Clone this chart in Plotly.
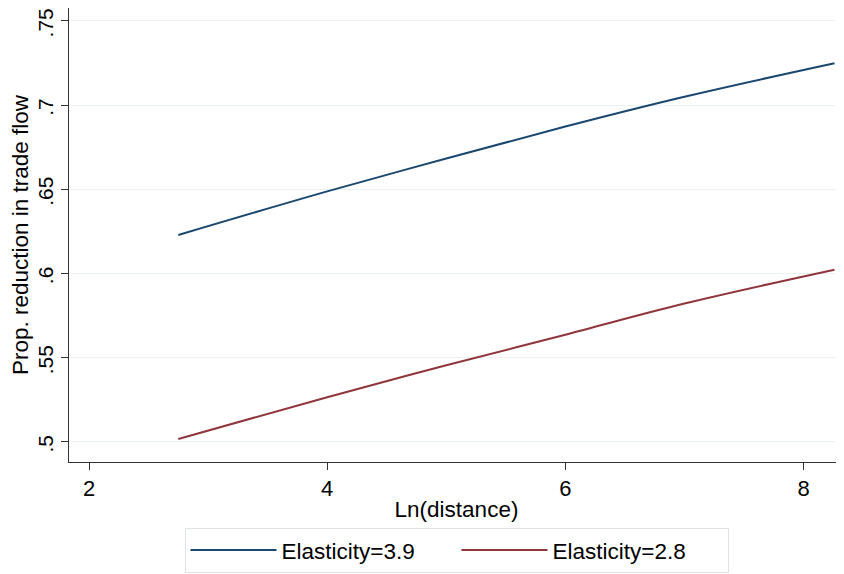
import plotly.graph_objects as go

# Data
ln_distance = [2.75, 4.0, 5.0, 6.0, 7.0, 8.26]
elasticity_39 = [0.6229, 0.6488, 0.6683, 0.6873, 0.7050, 0.7249]
elasticity_28 = [0.5018, 0.5266, 0.5455, 0.5637, 0.5822, 0.6023]

y_tickvals = [0.5, 0.55, 0.6, 0.65, 0.7, 0.75]
y_ticktext = [".5", ".55", ".6", ".65", ".7", ".75"]
x_tickvals = [2, 4, 6, 8]

BLUE = "#1a476f"
RED = "#90353b"
FONT = "Arial, Liberation Sans, sans-serif"

fig = go.Figure()
fig.add_trace(go.Scatter(x=ln_distance, y=elasticity_39, mode="lines",
                         line=dict(color=BLUE, width=2, shape="spline"),
                         name="Elasticity=3.9"))
fig.add_trace(go.Scatter(x=ln_distance, y=elasticity_28, mode="lines",
                         line=dict(color=RED, width=2, shape="spline"),
                         name="Elasticity=2.8"))

fig.update_layout(
    width=844, height=574,
    margin=dict(l=61, r=8, t=0, b=120, autoexpand=False),
    paper_bgcolor="white", plot_bgcolor="white",
    font=dict(family=FONT, size=22.5, color="#000"),
    showlegend=True,
    legend=dict(orientation="h", x=0.5, xanchor="center", y=-0.145, yanchor="top",
                bordercolor="#dde3e6", borderwidth=1, font=dict(size=22.5),
                itemwidth=86, entrywidth=170, tracegroupgap=0),
    xaxis=dict(range=[1.832, 8.34], tickvals=x_tickvals, ticks="outside", ticklen=7,
               tickcolor="#333", showline=True, linecolor="#333", linewidth=1,
               showgrid=False, zeroline=False, tickfont=dict(size=22), automargin=False,
               title=dict(text="Ln(distance)", font=dict(size=22.5), standoff=0)),
    yaxis=dict(range=[0.4881, 0.7577], tickvals=y_tickvals, ticktext=y_ticktext,
               tickangle=-90, ticks="outside", ticklen=7, tickcolor="#333",
               showline=True, linecolor="#333", linewidth=1, automargin=False,
               ticklabeloverflow="allow", ticklabelshift=5,
               showgrid=True, gridcolor="#eaf2f3", gridwidth=1, zeroline=False,
               tickfont=dict(size=21),
               title=dict(text="Prop. reduction in trade flow", font=dict(size=22.5), standoff=4)),
)

fig.write_html("out.html")
